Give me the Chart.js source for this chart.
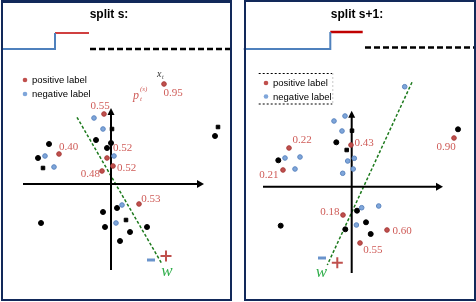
<!DOCTYPE html>
<html>
<head>
<meta charset="utf-8">
<script src="https://cdn.jsdelivr.net/npm/chart.js@4.4.1/dist/chart.umd.min.js"></script>
<style>
  body { margin: 0; background: #fff; }
  #wrap { position: relative; width: 476px; height: 302px; overflow: hidden; background: #fff; }
  canvas { position: absolute; top: 0; }
  .frame { position: absolute; top: 0; height: 301px; box-sizing: border-box; border: 2px solid #12295a; pointer-events: none; }
</style>
</head>
<body>
<div id="wrap">
  <canvas id="left" width="238" height="302" style="left:0"></canvas>
  <canvas id="right" width="238" height="302" style="left:238px"></canvas>
  <div class="frame" style="left:1px;width:231px;border-top-width:3px"></div>
  <div class="frame" style="left:244px;width:232px"></div>
</div>
<script>
// ---- split s (left panel), axis origin at (0,0) ----
const leftPositive = [[5.3, 10.0], [-0.7, 7.0], [-5.2, 3.0], [-0.4, 2.6], [0.2, 1.8], [-0.9, 1.3], [2.8, -2.0]];
const leftProbs = ['0.95', '0.55', '0.40', '0.52', '0.52', '0.48', '0.53'];
const leftNegative = [[-1.7, 6.6], [-0.8, 5.5], [-6.6, 2.8], [-5.7, 1.7], [0.3, 2.8], [1.1, -2.1], [0.5, -3.9]];
const leftOther = [[-1.5, 4.4], [-6.2, 4.0], [0.0, 4.1], [-0.4, 3.6], [-7.3, 2.6], [10.4, 4.8],
  [0.6, -2.4], [-0.8, -2.8], [-7.0, -3.9], [-0.6, -4.3], [3.6, -4.3], [1.9, -4.8], [0.9, -5.7]];
const leftOtherSquares = [[0.1, 5.5], [-6.8, 1.6], [10.7, 5.7], [1.5, -3.6]];
const leftW = [[-3.4, 6.67], [5.1, -8.0]];
const leftPlus = [[5.5, -7.2]];
const leftMinus = [[4.0, -7.6]];
const leftAxisX = [-8.8, 9.2];
const leftAxisY = [-8.6, 7.5];
const leftStepBlue = [[-11.0, 13.5], [-5.6, 13.5], [-5.6, 15.1]];
const leftStepRed = [[-5.6, 15.1], [-2.2, 15.1]];
const leftDashed = [[-2.1, 13.5], [12.0, 13.5]];

// ---- split s+1 (right panel) ----
const rightPositive = [[10.23, 4.87], [-0.07, 4.17], [-6.27, 3.87], [-6.87, 1.67], [-0.87, -2.83], [3.53, -4.33], [0.83, -5.63]];
const rightProbs = ['0.90', '0.43', '0.22', '0.21', '0.18', '0.60', '0.55'];
const rightNegative = [[5.3, 10.0], [-0.67, 7.07], [-1.77, 6.57], [-0.97, 5.57], [-5.17, 2.97], [-6.67, 2.87],
  [0.26, 2.84], [-0.4, 2.57], [-5.67, 1.77], [0.15, 1.77], [-0.9, 1.34], [1.0, -2.1], [2.7, -1.93], [0.47, -3.83]];
const rightOther = [[10.63, 5.74], [-1.54, 4.44], [-7.34, 2.64], [0.53, -2.4], [1.43, -3.56], [-7.1, -3.9], [-0.64, -4.26], [1.9, -4.73]];
const rightOtherSquares = [[0.03, 5.6], [-0.5, 3.67]];
const rightW = [[6.03, 10.44], [-2.44, -7.83]];
const rightPlus = [[-1.44, -7.6]];
const rightMinus = [[-2.97, -7.13]];
const rightAxisX = [-8.87, 9.03];
const rightAxisY = [-8.63, 7.5];
const rightStepBlue = [[-10.8, 13.77], [-2.14, 13.77], [-2.14, 15.47]];
const rightStepRed = [[-2.14, 15.47], [1.1, 15.47]];
const rightDashed = [[1.33, 13.92], [12.5, 13.92]];

// label placement (pixels from point centre)
const leftProbOffsets = [[9, 9], [-4, -8], [9.5, -7.3], [15.7, -10], [13.7, 2], [-11.7, 3], [11.8, -5]];
const rightProbOffsets = [[-8, 9], [13, -2.3], [13, -8], [-14.2, 5], [-13.2, -3.3], [15, 0.7], [12.8, 7]];

const RED = '#c0504d';
const BLUE = '#7fa6da';
const GREEN = '#1d7a1d';

function pts(list) {
  return list.map(p => ({ x: p[0], y: p[1] }));
}

function lineSet(list, color, width, dash) {
  return {
    data: pts(list), showLine: true, borderColor: color, borderWidth: width,
    borderDash: dash || [], pointRadius: 0, fill: false, clip: false, order: 5
  };
}

function dotSet(list, color, border, radius, style) {
  return {
    data: pts(list), showLine: false, backgroundColor: color, borderColor: border,
    borderWidth: 1, pointRadius: radius, pointStyle: style || 'circle', clip: false, order: 1
  };
}

const decoPlugin = {
  id: 'panelDeco',
  afterDatasetsDraw(chart, args, o) {
    const ctx = chart.ctx;
    const px = v => chart.scales.x.getPixelForValue(v);
    const py = v => chart.scales.y.getPixelForValue(v);
    ctx.save();

    // arrow heads on the axes
    ctx.fillStyle = '#000';
    let ax = px(o.axisX[1]), ay = py(0);
    ctx.beginPath();
    ctx.moveTo(ax + 1, ay); ctx.lineTo(ax - 6, ay - 4); ctx.lineTo(ax - 6, ay + 4); ctx.closePath(); ctx.fill();
    ax = px(0); ay = py(o.axisY[1]);
    ctx.beginPath();
    ctx.moveTo(ax, ay - 1); ctx.lineTo(ax - 3.5, ay + 6); ctx.lineTo(ax + 3.5, ay + 6); ctx.closePath(); ctx.fill();

    // probability labels
    ctx.font = '11px "Liberation Serif", serif';
    ctx.fillStyle = '#cf5c58';
    ctx.textAlign = 'center';
    ctx.textBaseline = 'middle';
    o.positives.forEach((p, i) => {
      const off = o.offsets[i];
      ctx.fillText(o.probs[i], px(p[0]) + off[0], py(p[1]) + off[1]);
    });

    // w label
    ctx.font = 'italic 17px "Liberation Serif", serif';
    ctx.fillStyle = '#2fae4a';
    const wEnd = o.w[1];
    ctx.fillText('w', px(wEnd[0]) + o.wOffset[0], py(wEnd[1]) + o.wOffset[1]);

    // title
    ctx.font = 'bold 12px "Liberation Sans", Arial, sans-serif';
    ctx.fillStyle = '#000';
    ctx.fillText(o.title, o.titleX, 15);

    // legend
    const lg = o.legend;
    if (lg.box) {
      ctx.lineWidth = 1;
      ctx.setLineDash([2, 2]);
      ctx.strokeStyle = '#000';
      ctx.beginPath();
      ctx.moveTo(lg.box[0], lg.box[1] + 0.5); ctx.lineTo(lg.box[2], lg.box[1] + 0.5);
      ctx.moveTo(lg.box[0], lg.box[3] + 0.5); ctx.lineTo(lg.box[2], lg.box[3] + 0.5);
      ctx.stroke();
      ctx.strokeStyle = '#c8c8c8';
      ctx.beginPath();
      ctx.moveTo(lg.box[2] + 0.5, lg.box[1]); ctx.lineTo(lg.box[2] + 0.5, lg.box[3]);
      ctx.stroke();
      ctx.setLineDash([]);
    }
    ctx.font = '9.5px "Liberation Sans", Arial, sans-serif';
    ctx.textAlign = 'left';
    [[RED, 'positive label'], [BLUE, 'negative label']].forEach((e, i) => {
      const y = lg.y + i * lg.gap;
      ctx.fillStyle = e[0];
      ctx.beginPath(); ctx.arc(lg.x, y, 2.3, 0, Math.PI * 2); ctx.fill();
      ctx.fillStyle = '#000';
      ctx.fillText(e[1], lg.x + 7, y + 0.5);
    });

    // x_t and p_t^(s) annotations next to the first positive point
    if (o.annotate) {
      const p = o.positives[0];
      const bx = px(p[0]), by = py(p[1]);
      ctx.fillStyle = '#333';
      ctx.font = 'italic 10px "Liberation Serif", serif';
      ctx.fillText('x', bx - 7, by - 10);
      ctx.font = 'italic 6px "Liberation Serif", serif';
      ctx.fillText('t', bx - 2, by - 7);
      ctx.fillStyle = '#cf5c58';
      ctx.font = 'italic 12px "Liberation Serif", serif';
      ctx.fillText('p', bx - 31, by + 12);
      ctx.font = 'italic 7px "Liberation Serif", serif';
      ctx.fillText('(s)', bx - 24, by + 5);
      ctx.fillText('t', bx - 24, by + 15);
    }
    ctx.restore();
  }
};

function makePanel(id, d) {
  new Chart(document.getElementById(id), {
    type: 'scatter',
    data: {
      datasets: [
        lineSet(d.stepBlue, '#4f81bd', 2),
        lineSet(d.stepRed, '#c00000', d.redWidth),
        lineSet(d.dashed, '#000', 2.5, [6, 3]),
        lineSet([[d.axisX[0], 0], [d.axisX[1] - 2 / 10, 0]], '#000', 2),
        lineSet([[0, d.axisY[0]], [0, d.axisY[1] - 2 / 10]], '#000', 2),
        lineSet(d.w, GREEN, 1.5, [3, 2]),
        dotSet(d.positives, RED, '#a83c3a', 2.3),
        dotSet(d.negatives, BLUE, '#5c86c0', 2.3),
        dotSet(d.other, '#000', '#000', 2.5),
        dotSet(d.squares, '#000', '#000', 2.5, 'rect'),
        { data: pts(d.plus), showLine: false, pointStyle: 'cross', pointRadius: 5.5, borderColor: RED, borderWidth: 2, clip: false },
        { data: pts(d.minus), showLine: false, pointStyle: 'line', pointRadius: 4, borderColor: '#6a94cc', borderWidth: 3, clip: false }
      ]
    },
    options: {
      responsive: false,
      animation: false,
      devicePixelRatio: 1,
      layout: { padding: 0, autoPadding: false },
      scales: {
        x: { type: 'linear', display: false, min: d.xRange[0], max: d.xRange[1] },
        y: { type: 'linear', display: false, min: d.yRange[0], max: d.yRange[1] }
      },
      plugins: {
        legend: { display: false },
        tooltip: { enabled: false },
        panelDeco: {
          positives: d.positives, probs: d.probs, offsets: d.offsets,
          axisX: d.axisX, axisY: d.axisY, w: d.w, wOffset: d.wOffset,
          title: d.title, titleX: d.titleX, legend: d.legend, annotate: d.annotate
        }
      }
    },
    plugins: [decoPlugin]
  });
}

makePanel('left', {
  positives: leftPositive, probs: leftProbs, offsets: leftProbOffsets,
  negatives: leftNegative, other: leftOther, squares: leftOtherSquares,
  w: leftW, plus: leftPlus, minus: leftMinus, axisX: leftAxisX, axisY: leftAxisY,
  stepBlue: leftStepBlue, stepRed: leftStepRed, dashed: leftDashed, redWidth: 1.5,
  xRange: [-11.1, 12.7], yRange: [-11.8, 18.4],
  wOffset: [5, 8], title: 'split s:', titleX: 109,
  legend: { x: 25, y: 80, gap: 14 }, annotate: true
});

makePanel('right', {
  positives: rightPositive, probs: rightProbs, offsets: rightProbOffsets,
  negatives: rightNegative, other: rightOther, squares: rightOtherSquares,
  w: rightW, plus: rightPlus, minus: rightMinus, axisX: rightAxisX, axisY: rightAxisY,
  stepBlue: rightStepBlue, stepRed: rightStepRed, dashed: rightDashed, redWidth: 2.5,
  xRange: [-11.37, 12.43], yRange: [-11.53, 18.67],
  wOffset: [-6, 8], title: 'split s+1:', titleX: 119,
  legend: { x: 28, y: 83, gap: 13.5, box: [20.7, 73, 94.3, 103.5] }, annotate: false
});
</script>
</body>
</html>
